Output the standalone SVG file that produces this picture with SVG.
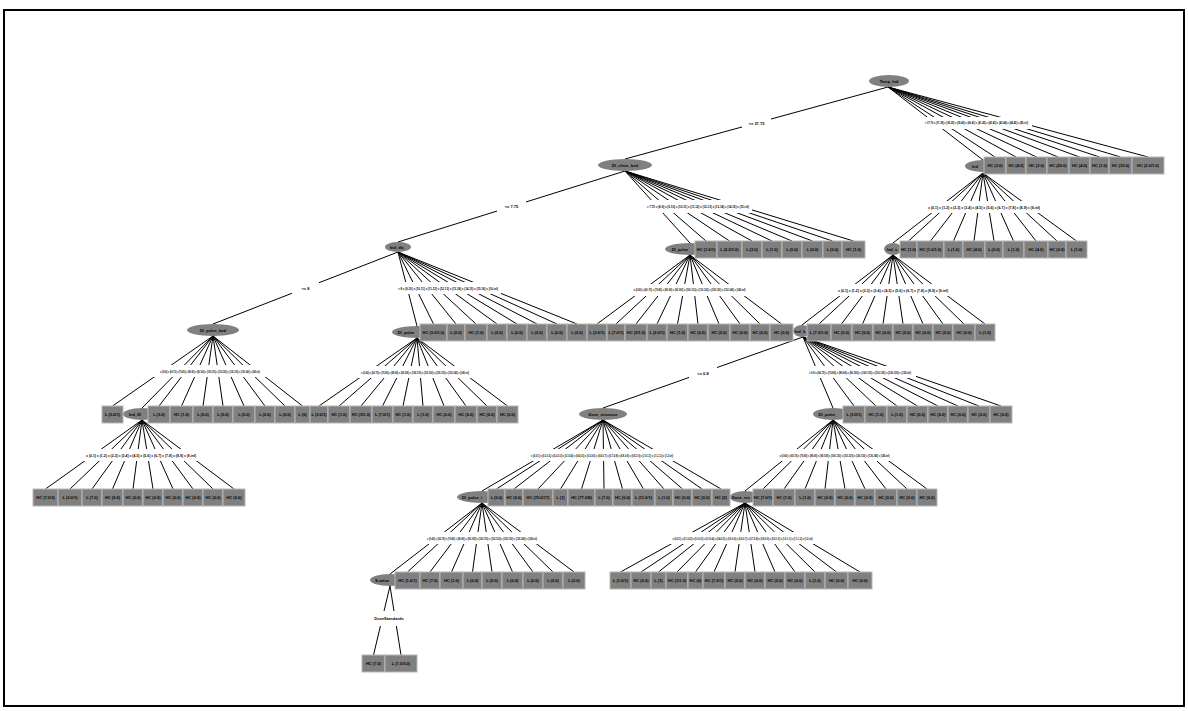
<svg xmlns="http://www.w3.org/2000/svg" width="1188" height="711" viewBox="0 0 1188 711">
<style>
.bx{fill:#808080;stroke:#b8b8b8;stroke-width:1}
.el{fill:#808080}
.t{font-family:"Liberation Sans",Arial,sans-serif;font-size:4px;font-weight:bold;fill:#000;text-anchor:middle}
.c{fill:none;stroke:#000;stroke-width:1}
.gap{fill:#fff}
</style>
<rect width="1188" height="711" fill="#fff"/>
<rect x="4" y="10" width="1180" height="696" fill="none" stroke="#000" stroke-width="2"/>
<g id="connectors">
<path class="c" d="M888 87L625 159M888 87L983 160M888 87L995 157M888 87L1016 157M888 87L1036.5 157M888 87L1058 157M888 87L1079.5 157M888 87L1099.5 157M888 87L1120.5 157M888 87L1148 157
M983 173L893 243M983 173L908.5 241M983 173L930.5 241M983 173L953.5 241M983 173L974 241M983 173L994 241M983 173L1013.5 241M983 173L1036 241M983 173L1057 241M983 173L1076.5 241
M625 171L398 242M625 171L690 243M625 171L706 241M625 171L729.5 241M625 171L752 241M625 171L772 241M625 171L792 241M625 171L812.5 241M625 171L832.5 241M625 171L853.5 241
M893 255L802 325M893 255L819 324M893 255L841.5 324M893 255L862.5 324M893 255L883 324M893 255L903 324M893 255L923 324M893 255L943 324M893 255L964 324M893 255L985 324
M690 255L597 324M690 255L616 324M690 255L636 324M690 255L657 324M690 255L677.5 324M690 255L698 324M690 255L719 324M690 255L740 324M690 255L760 324M690 255L781.5 324
M398 252L213 324M398 252L417 326M398 252L433.5 324M398 252L456 324M398 252L476 324M398 252L497 324M398 252L517 324M398 252L537 324M398 252L557 324M398 252L577 324
M213 336L112.5 406M213 336L142 408M213 336L159 406M213 336L181.5 406M213 336L203 406M213 336L223 406M213 336L244 406M213 336L265 406M213 336L285 406M213 336L302.5 406
M417 338L319 406M417 338L339 406M417 338L361 406M417 338L382.5 406M417 338L403 406M417 338L423 406M417 338L444 406M417 338L466 406M417 338L487 406M417 338L507.5 406
M803 337L603 408M803 337L833 408M803 337L854 406M803 337L876 406M803 337L897 406M803 337L917.5 406M803 337L938 406M803 337L958 406M803 337L979 406M803 337L1001 406
M142 420L45.5 489M142 420L70 489M142 420L92 489M142 420L112.5 489M142 420L133 489M142 420L153 489M142 420L173 489M142 420L193 489M142 420L213 489M142 420L234 489
M603 420L482 491M603 420L496.5 489M603 420L514 489M603 420L538 489M603 420L560.5 489M603 420L581.5 489M603 420L604 489M603 420L622.5 489M603 420L643.5 489M603 420L664 489M603 420L682.5 489M603 420L702 489M603 420L721 489
M833 420L745 491M833 420L763 489M833 420L784 489M833 420L805 489M833 420L825 489M833 420L845 489M833 420L865 489M833 420L886 489M833 420L907 489M833 420L927 489
M482 503L390 574M482 503L407.5 572M482 503L430 572M482 503L451.5 572M482 503L472.5 572M482 503L492 572M482 503L512.5 572M482 503L533 572M482 503L553 572M482 503L574 572
M745 503L620.5 572M745 503L641 572M745 503L658.5 572M745 503L677 572M745 503L695.5 572M745 503L714 572M745 503L735 572M745 503L755 572M745 503L775 572M745 503L795 572M745 503L815 572M745 503L836.5 572M745 503L860 572
M390 586L373.5 655M390 586L401 655"/>
<g class="gap">
<rect x="742" y="117" width="29" height="11"/>
<rect x="921" y="117" width="111" height="12"/>
<rect x="925" y="201" width="118" height="12"/>
<rect x="497" y="200" width="29" height="13"/>
<rect x="644" y="200" width="108" height="13"/>
<rect x="834" y="284" width="118" height="12"/>
<rect x="630" y="284" width="119" height="12"/>
<rect x="292" y="282" width="27" height="12"/>
<rect x="394" y="282" width="107" height="12"/>
<rect x="149" y="365" width="122" height="12"/>
<rect x="354" y="366" width="122" height="12"/>
<rect x="689" y="367" width="28" height="12"/>
<rect x="804" y="366" width="112" height="12"/>
<rect x="80" y="449" width="122" height="12"/>
<rect x="528" y="449" width="148" height="12"/>
<rect x="775" y="449" width="119" height="12"/>
<rect x="422" y="532" width="120" height="12"/>
<rect x="669" y="532" width="147" height="12"/>
<rect x="368" y="611" width="42" height="15"/>
</g>
<g class="t">
<text x="756.5" y="124.5">&lt;= 37.75</text>
<text x="976.5" y="124" textLength="103" lengthAdjust="spacingAndGlyphs">&gt; 37.75 = (37-38] = (38-39] = (39-40] = (40-41] = (41-42] = (42-43] = (43-44] = (44-45] = (45-inf)</text>
<text x="984" y="208.5" textLength="112" lengthAdjust="spacingAndGlyphs">= (0-1] = (1-2] = (2-3] = (3-4] = (4-5] = (5-6] = (6-7] = (7-8] = (8-9] = (9-inf)</text>
<text x="511.5" y="208">&lt;= 7.75</text>
<text x="698" y="208" textLength="102" lengthAdjust="spacingAndGlyphs">&gt; 7.75 = (8-9] = (9-10] = (10-11] = (11-12] = (12-13] = (13-14] = (14-15] = (15-inf)</text>
<text x="893" y="291.5" textLength="110" lengthAdjust="spacingAndGlyphs">= (0-1] = (1-2] = (2-3] = (3-4] = (4-5] = (5-6] = (6-7] = (7-8] = (8-9] = (9-inf)</text>
<text x="689.5" y="291" textLength="112" lengthAdjust="spacingAndGlyphs">= (0-60] = (60-70] = (70-80] = (80-90] = (90-100] = (100-110] = (110-120] = (120-130] = (130-140] = (140-inf)</text>
<text x="305.5" y="289.5">&lt;= 8</text>
<text x="448" y="289.5" textLength="100" lengthAdjust="spacingAndGlyphs">&gt; 8 = (9-10] = (10-11] = (11-12] = (12-13] = (13-14] = (14-15] = (15-16] = (16-inf)</text>
<text x="210" y="372.5" textLength="100" lengthAdjust="spacingAndGlyphs">= (0-60] = (60-70] = (70-80] = (80-90] = (90-100] = (100-110] = (110-120] = (120-130] = (130-140] = (140-inf)</text>
<text x="415" y="373.5" textLength="108" lengthAdjust="spacingAndGlyphs">= (0-60] = (60-70] = (70-80] = (80-90] = (90-100] = (100-110] = (110-120] = (120-130] = (130-140] = (140-inf)</text>
<text x="703" y="374.5">&lt;= 0.8</text>
<text x="860" y="373.5" textLength="102" lengthAdjust="spacingAndGlyphs">&gt; 0.8 = (60-70] = (70-80] = (80-90] = (90-100] = (100-110] = (110-120] = (120-130] = (130-inf)</text>
<text x="141" y="456.5" textLength="110" lengthAdjust="spacingAndGlyphs">= (0-1] = (1-2] = (2-3] = (3-4] = (4-5] = (5-6] = (6-7] = (7-8] = (8-9] = (9-inf)</text>
<text x="602" y="456.5" textLength="142" lengthAdjust="spacingAndGlyphs">= (0-0.1] = (0.1-0.2] = (0.2-0.3] = (0.3-0.4] = (0.4-0.5] = (0.5-0.6] = (0.6-0.7] = (0.7-0.8] = (0.8-0.9] = (0.9-1.0] = (1.0-1.1] = (1.1-1.2] = (1.2-inf)</text>
<text x="834.5" y="456.5" textLength="110" lengthAdjust="spacingAndGlyphs">= (0-60] = (60-70] = (70-80] = (80-90] = (90-100] = (100-110] = (110-120] = (120-130] = (130-140] = (140-inf)</text>
<text x="482" y="539.5" textLength="110" lengthAdjust="spacingAndGlyphs">= (0-60] = (60-70] = (70-80] = (80-90] = (90-100] = (100-110] = (110-120] = (120-130] = (130-140] = (140-inf)</text>
<text x="742.5" y="539.5" textLength="140" lengthAdjust="spacingAndGlyphs">= (0-0.1] = (0.1-0.2] = (0.2-0.3] = (0.3-0.4] = (0.4-0.5] = (0.5-0.6] = (0.6-0.7] = (0.7-0.8] = (0.8-0.9] = (0.9-1.0] = (1.0-1.1] = (1.1-1.2] = (1.2-inf)</text>
<text x="389" y="619.5">DoseStandards</text>
</g>
</g>
<g id="n-temp-ind"><ellipse class="el" cx="889" cy="81" rx="20" ry="6"/><text class="t" x="889" y="82.5">Temp_Ind</text></g>
<g id="n-di-clinic-bed"><ellipse class="el" cx="625" cy="165" rx="27" ry="6"/><text class="t" x="625" y="166.5">DI_clinic_bed</text></g>
<g id="n-ind"><ellipse class="el" cx="983" cy="166" rx="18" ry="6"/><text class="t" x="975" y="167.5">Ind</text></g>
<g id="n-ind-dis"><ellipse class="el" cx="398" cy="247" rx="13" ry="5"/><text class="t" x="397" y="248.5">Ind_dis</text></g>
<g id="n-di-pulse-a"><ellipse class="el" cx="690" cy="249" rx="25" ry="6"/><text class="t" x="680" y="250.5">DI_pulse</text></g>
<g id="n-ind-s"><ellipse class="el" cx="893" cy="249" rx="9" ry="6"/><text class="t" x="892" y="250.5">Ind_s</text></g>
<g id="n-di-pulse-bed"><ellipse class="el" cx="213" cy="330" rx="26" ry="6"/><text class="t" x="213" y="331.5">DI_pulse_bed</text></g>
<g id="n-di-pulse-b"><ellipse class="el" cx="417" cy="332" rx="25" ry="6"/><text class="t" x="406" y="333.5">DI_pulse</text></g>
<g id="n-ind-b"><ellipse class="el" cx="802" cy="331" rx="9" ry="6"/><text class="t" x="800" y="332.5">Ind_b</text></g>
<g id="n-ind-id"><ellipse class="el" cx="142" cy="414" rx="19" ry="6"/><text class="t" x="135" y="415.5">Ind_ID</text></g>
<g id="n-dose-resource"><ellipse class="el" cx="603" cy="414" rx="24" ry="6"/><text class="t" x="603" y="415.5">Dose_resource</text></g>
<g id="n-di-pulse-c"><ellipse class="el" cx="833" cy="414" rx="20" ry="6"/><text class="t" x="828" y="415.5">DI_pulse_</text></g>
<g id="n-di-pulse-d"><ellipse class="el" cx="482" cy="497" rx="25" ry="6"/><text class="t" x="472" y="498.5">DI_pulse_i</text></g>
<g id="n-dose-res"><ellipse class="el" cx="745" cy="497" rx="15" ry="6"/><text class="t" x="741" y="498.5">Dose_res</text></g>
<g id="n-s-value"><ellipse class="el" cx="390" cy="580" rx="20" ry="6"/><text class="t" x="382" y="581.5">S-value</text></g>
<g id="l1-1"><rect class="bx" x="984" y="157" width="22" height="17"/><text class="t" x="995" y="167">HC (3.0)</text></g>
<g id="l1-2"><rect class="bx" x="1006" y="157" width="20" height="17"/><text class="t" x="1016" y="167">HC (4.0)</text></g>
<g id="l1-3"><rect class="bx" x="1026" y="157" width="21" height="17"/><text class="t" x="1036.5" y="167">HC (2.0)</text></g>
<g id="l1-4"><rect class="bx" x="1047" y="157" width="22" height="17"/><text class="t" x="1058" y="167">HC (20.0)</text></g>
<g id="l1-5"><rect class="bx" x="1069" y="157" width="21" height="17"/><text class="t" x="1079.5" y="167">HC (4.0)</text></g>
<g id="l1-6"><rect class="bx" x="1090" y="157" width="19" height="17"/><text class="t" x="1099.5" y="167">HC (1.0)</text></g>
<g id="l1-7"><rect class="bx" x="1109" y="157" width="23" height="17"/><text class="t" x="1120.5" y="167">HC (10.0)</text></g>
<g id="l1-8"><rect class="bx" x="1132" y="157" width="32" height="17"/><text class="t" x="1148" y="167">HC (2.0/1.0)</text></g>
<g id="l2-1"><rect class="bx" x="695" y="241" width="22" height="17"/><text class="t" x="706" y="251">HC (1.0/1)</text></g>
<g id="l2-2"><rect class="bx" x="717" y="241" width="25" height="17"/><text class="t" x="729.5" y="251">L (2.0/1.0)</text></g>
<g id="l2-3"><rect class="bx" x="742" y="241" width="20" height="17"/><text class="t" x="752" y="251">L (2.0)</text></g>
<g id="l2-4"><rect class="bx" x="762" y="241" width="20" height="17"/><text class="t" x="772" y="251">L (1.0)</text></g>
<g id="l2-5"><rect class="bx" x="782" y="241" width="20" height="17"/><text class="t" x="792" y="251">L (0.0)</text></g>
<g id="l2-6"><rect class="bx" x="802" y="241" width="21" height="17"/><text class="t" x="812.5" y="251">L (0.0)</text></g>
<g id="l2-7"><rect class="bx" x="823" y="241" width="19" height="17"/><text class="t" x="832.5" y="251">L (0.0)</text></g>
<g id="l2-8"><rect class="bx" x="842" y="241" width="23" height="17"/><text class="t" x="853.5" y="251">HC (1.0)</text></g>
<g id="l2-9"><rect class="bx" x="900" y="241" width="17" height="17"/><text class="t" x="908.5" y="251">HC (1.0)</text></g>
<g id="l2-10"><rect class="bx" x="917" y="241" width="27" height="17"/><text class="t" x="930.5" y="251">HC (1.0/1.0)</text></g>
<g id="l2-11"><rect class="bx" x="944" y="241" width="19" height="17"/><text class="t" x="953.5" y="251">L (1.0)</text></g>
<g id="l2-12"><rect class="bx" x="963" y="241" width="22" height="17"/><text class="t" x="974" y="251">HC (4.0)</text></g>
<g id="l2-13"><rect class="bx" x="985" y="241" width="18" height="17"/><text class="t" x="994" y="251">L (0.0)</text></g>
<g id="l2-14"><rect class="bx" x="1003" y="241" width="21" height="17"/><text class="t" x="1013.5" y="251">L (1.0)</text></g>
<g id="l2-15"><rect class="bx" x="1024" y="241" width="24" height="17"/><text class="t" x="1036" y="251">HC (4.0)</text></g>
<g id="l2-16"><rect class="bx" x="1048" y="241" width="18" height="17"/><text class="t" x="1057" y="251">HC (0.0)</text></g>
<g id="l2-17"><rect class="bx" x="1066" y="241" width="21" height="17"/><text class="t" x="1076.5" y="251">L (1.0)</text></g>
<g id="l3-1"><rect class="bx" x="420" y="324" width="27" height="17"/><text class="t" x="433.5" y="334">HC (3.0/1.0)</text></g>
<g id="l3-2"><rect class="bx" x="447" y="324" width="18" height="17"/><text class="t" x="456" y="334">L (0.0)</text></g>
<g id="l3-3"><rect class="bx" x="465" y="324" width="22" height="17"/><text class="t" x="476" y="334">HC (1.0)</text></g>
<g id="l3-4"><rect class="bx" x="487" y="324" width="20" height="17"/><text class="t" x="497" y="334">L (0.0)</text></g>
<g id="l3-5"><rect class="bx" x="507" y="324" width="20" height="17"/><text class="t" x="517" y="334">L (0.0)</text></g>
<g id="l3-6"><rect class="bx" x="527" y="324" width="20" height="17"/><text class="t" x="537" y="334">L (0.0)</text></g>
<g id="l3-7"><rect class="bx" x="547" y="324" width="20" height="17"/><text class="t" x="557" y="334">L (0.0)</text></g>
<g id="l3-8"><rect class="bx" x="567" y="324" width="20" height="17"/><text class="t" x="577" y="334">L (0.0)</text></g>
<g id="l3-9"><rect class="bx" x="587" y="324" width="20" height="17"/><text class="t" x="597" y="334">L (3.0/1)</text></g>
<g id="l3-10"><rect class="bx" x="607" y="324" width="18" height="17"/><text class="t" x="616" y="334">L (7.0/1)</text></g>
<g id="l3-11"><rect class="bx" x="625" y="324" width="22" height="17"/><text class="t" x="636" y="334">HC (3/1.0)</text></g>
<g id="l3-12"><rect class="bx" x="647" y="324" width="20" height="17"/><text class="t" x="657" y="334">L (2.0/1)</text></g>
<g id="l3-13"><rect class="bx" x="667" y="324" width="21" height="17"/><text class="t" x="677.5" y="334">HC (1.0)</text></g>
<g id="l3-14"><rect class="bx" x="688" y="324" width="20" height="17"/><text class="t" x="698" y="334">HC (0.0)</text></g>
<g id="l3-15"><rect class="bx" x="708" y="324" width="22" height="17"/><text class="t" x="719" y="334">HC (0.0)</text></g>
<g id="l3-16"><rect class="bx" x="730" y="324" width="20" height="17"/><text class="t" x="740" y="334">HC (0.0)</text></g>
<g id="l3-17"><rect class="bx" x="750" y="324" width="20" height="17"/><text class="t" x="760" y="334">HC (0.0)</text></g>
<g id="l3-18"><rect class="bx" x="770" y="324" width="23" height="17"/><text class="t" x="781.5" y="334">HC (0.0)</text></g>
<g id="l3-19"><rect class="bx" x="807" y="324" width="24" height="17"/><text class="t" x="819" y="334">L (7.0/1.0)</text></g>
<g id="l3-20"><rect class="bx" x="831" y="324" width="21" height="17"/><text class="t" x="841.5" y="334">HC (0.0)</text></g>
<g id="l3-21"><rect class="bx" x="852" y="324" width="21" height="17"/><text class="t" x="862.5" y="334">HC (0.0)</text></g>
<g id="l3-22"><rect class="bx" x="873" y="324" width="20" height="17"/><text class="t" x="883" y="334">HC (0.0)</text></g>
<g id="l3-23"><rect class="bx" x="893" y="324" width="20" height="17"/><text class="t" x="903" y="334">HC (0.0)</text></g>
<g id="l3-24"><rect class="bx" x="913" y="324" width="20" height="17"/><text class="t" x="923" y="334">HC (0.0)</text></g>
<g id="l3-25"><rect class="bx" x="933" y="324" width="20" height="17"/><text class="t" x="943" y="334">HC (0.0)</text></g>
<g id="l3-26"><rect class="bx" x="953" y="324" width="22" height="17"/><text class="t" x="964" y="334">HC (0.0)</text></g>
<g id="l3-27"><rect class="bx" x="975" y="324" width="20" height="17"/><text class="t" x="985" y="334">L (1.0)</text></g>
<g id="l4-1"><rect class="bx" x="102" y="406" width="21" height="17"/><text class="t" x="112.5" y="416">L (3.0/1)</text></g>
<g id="l4-2"><rect class="bx" x="148" y="406" width="22" height="17"/><text class="t" x="159" y="416">L (3.0)</text></g>
<g id="l4-3"><rect class="bx" x="170" y="406" width="23" height="17"/><text class="t" x="181.5" y="416">HC (1.0)</text></g>
<g id="l4-4"><rect class="bx" x="193" y="406" width="20" height="17"/><text class="t" x="203" y="416">L (0.0)</text></g>
<g id="l4-5"><rect class="bx" x="213" y="406" width="20" height="17"/><text class="t" x="223" y="416">L (0.0)</text></g>
<g id="l4-6"><rect class="bx" x="233" y="406" width="22" height="17"/><text class="t" x="244" y="416">L (0.0)</text></g>
<g id="l4-7"><rect class="bx" x="255" y="406" width="20" height="17"/><text class="t" x="265" y="416">L (0.0)</text></g>
<g id="l4-8"><rect class="bx" x="275" y="406" width="20" height="17"/><text class="t" x="285" y="416">L (0.0)</text></g>
<g id="l4-9"><rect class="bx" x="295" y="406" width="15" height="17"/><text class="t" x="302.5" y="416">L (0)</text></g>
<g id="l4-10"><rect class="bx" x="310" y="406" width="18" height="17"/><text class="t" x="319" y="416">L (3.0/1)</text></g>
<g id="l4-11"><rect class="bx" x="328" y="406" width="22" height="17"/><text class="t" x="339" y="416">HC (1.0)</text></g>
<g id="l4-12"><rect class="bx" x="350" y="406" width="22" height="17"/><text class="t" x="361" y="416">HC (3/1.0)</text></g>
<g id="l4-13"><rect class="bx" x="372" y="406" width="21" height="17"/><text class="t" x="382.5" y="416">L (7.0/1)</text></g>
<g id="l4-14"><rect class="bx" x="393" y="406" width="20" height="17"/><text class="t" x="403" y="416">HC (1.0)</text></g>
<g id="l4-15"><rect class="bx" x="413" y="406" width="20" height="17"/><text class="t" x="423" y="416">L (1.0)</text></g>
<g id="l4-16"><rect class="bx" x="433" y="406" width="22" height="17"/><text class="t" x="444" y="416">HC (0.0)</text></g>
<g id="l4-17"><rect class="bx" x="455" y="406" width="22" height="17"/><text class="t" x="466" y="416">HC (0.0)</text></g>
<g id="l4-18"><rect class="bx" x="477" y="406" width="20" height="17"/><text class="t" x="487" y="416">HC (0.0)</text></g>
<g id="l4-19"><rect class="bx" x="497" y="406" width="21" height="17"/><text class="t" x="507.5" y="416">HC (0.0)</text></g>
<g id="l4-20"><rect class="bx" x="843" y="406" width="22" height="17"/><text class="t" x="854" y="416">L (3.0/1)</text></g>
<g id="l4-21"><rect class="bx" x="865" y="406" width="22" height="17"/><text class="t" x="876" y="416">HC (1.0)</text></g>
<g id="l4-22"><rect class="bx" x="887" y="406" width="20" height="17"/><text class="t" x="897" y="416">L (1.0)</text></g>
<g id="l4-23"><rect class="bx" x="907" y="406" width="21" height="17"/><text class="t" x="917.5" y="416">HC (0.0)</text></g>
<g id="l4-24"><rect class="bx" x="928" y="406" width="20" height="17"/><text class="t" x="938" y="416">HC (0.0)</text></g>
<g id="l4-25"><rect class="bx" x="948" y="406" width="20" height="17"/><text class="t" x="958" y="416">HC (0.0)</text></g>
<g id="l4-26"><rect class="bx" x="968" y="406" width="22" height="17"/><text class="t" x="979" y="416">HC (0.0)</text></g>
<g id="l4-27"><rect class="bx" x="990" y="406" width="22" height="17"/><text class="t" x="1001" y="416">HC (0.0)</text></g>
<g id="l5-1"><rect class="bx" x="33" y="489" width="25" height="17"/><text class="t" x="45.5" y="499">HC (7.0/3)</text></g>
<g id="l5-2"><rect class="bx" x="58" y="489" width="24" height="17"/><text class="t" x="70" y="499">L (3.0/1)</text></g>
<g id="l5-3"><rect class="bx" x="82" y="489" width="20" height="17"/><text class="t" x="92" y="499">L (7.0)</text></g>
<g id="l5-4"><rect class="bx" x="102" y="489" width="21" height="17"/><text class="t" x="112.5" y="499">HC (0.0)</text></g>
<g id="l5-5"><rect class="bx" x="123" y="489" width="20" height="17"/><text class="t" x="133" y="499">HC (0.0)</text></g>
<g id="l5-6"><rect class="bx" x="143" y="489" width="20" height="17"/><text class="t" x="153" y="499">HC (0.0)</text></g>
<g id="l5-7"><rect class="bx" x="163" y="489" width="20" height="17"/><text class="t" x="173" y="499">HC (0.0)</text></g>
<g id="l5-8"><rect class="bx" x="183" y="489" width="20" height="17"/><text class="t" x="193" y="499">HC (0.0)</text></g>
<g id="l5-9"><rect class="bx" x="203" y="489" width="20" height="17"/><text class="t" x="213" y="499">HC (0.0)</text></g>
<g id="l5-10"><rect class="bx" x="223" y="489" width="22" height="17"/><text class="t" x="234" y="499">HC (0.0)</text></g>
<g id="l5-11"><rect class="bx" x="488" y="489" width="17" height="17"/><text class="t" x="496.5" y="499">L (0.0)</text></g>
<g id="l5-12"><rect class="bx" x="505" y="489" width="18" height="17"/><text class="t" x="514" y="499">HC (0.0)</text></g>
<g id="l5-13"><rect class="bx" x="523" y="489" width="30" height="17"/><text class="t" x="538" y="499">HC (70.0/17)</text></g>
<g id="l5-14"><rect class="bx" x="553" y="489" width="15" height="17"/><text class="t" x="560.5" y="499">L (1)</text></g>
<g id="l5-15"><rect class="bx" x="568" y="489" width="27" height="17"/><text class="t" x="581.5" y="499">HC (77.0/8)</text></g>
<g id="l5-16"><rect class="bx" x="595" y="489" width="18" height="17"/><text class="t" x="604" y="499">L (7.0)</text></g>
<g id="l5-17"><rect class="bx" x="613" y="489" width="19" height="17"/><text class="t" x="622.5" y="499">HC (0.0)</text></g>
<g id="l5-18"><rect class="bx" x="632" y="489" width="23" height="17"/><text class="t" x="643.5" y="499">L (11.0/1)</text></g>
<g id="l5-19"><rect class="bx" x="655" y="489" width="18" height="17"/><text class="t" x="664" y="499">L (1.0)</text></g>
<g id="l5-20"><rect class="bx" x="673" y="489" width="19" height="17"/><text class="t" x="682.5" y="499">HC (0.0)</text></g>
<g id="l5-21"><rect class="bx" x="692" y="489" width="20" height="17"/><text class="t" x="702" y="499">HC (0.0)</text></g>
<g id="l5-22"><rect class="bx" x="712" y="489" width="18" height="17"/><text class="t" x="721" y="499">HC (0)</text></g>
<g id="l5-23"><rect class="bx" x="753" y="489" width="20" height="17"/><text class="t" x="763" y="499">HC (7.0/1)</text></g>
<g id="l5-24"><rect class="bx" x="773" y="489" width="22" height="17"/><text class="t" x="784" y="499">HC (1.0)</text></g>
<g id="l5-25"><rect class="bx" x="795" y="489" width="20" height="17"/><text class="t" x="805" y="499">L (1.0)</text></g>
<g id="l5-26"><rect class="bx" x="815" y="489" width="20" height="17"/><text class="t" x="825" y="499">HC (0.0)</text></g>
<g id="l5-27"><rect class="bx" x="835" y="489" width="20" height="17"/><text class="t" x="845" y="499">HC (0.0)</text></g>
<g id="l5-28"><rect class="bx" x="855" y="489" width="20" height="17"/><text class="t" x="865" y="499">HC (0.0)</text></g>
<g id="l5-29"><rect class="bx" x="875" y="489" width="22" height="17"/><text class="t" x="886" y="499">HC (0.0)</text></g>
<g id="l5-30"><rect class="bx" x="897" y="489" width="20" height="17"/><text class="t" x="907" y="499">HC (0.0)</text></g>
<g id="l5-31"><rect class="bx" x="917" y="489" width="20" height="17"/><text class="t" x="927" y="499">HC (0.0)</text></g>
<g id="l6-1"><rect class="bx" x="395" y="572" width="25" height="17"/><text class="t" x="407.5" y="582">HC (1.0/1)</text></g>
<g id="l6-2"><rect class="bx" x="420" y="572" width="20" height="17"/><text class="t" x="430" y="582">HC (7.0)</text></g>
<g id="l6-3"><rect class="bx" x="440" y="572" width="23" height="17"/><text class="t" x="451.5" y="582">HC (1.0)</text></g>
<g id="l6-4"><rect class="bx" x="463" y="572" width="19" height="17"/><text class="t" x="472.5" y="582">L (0.0)</text></g>
<g id="l6-5"><rect class="bx" x="482" y="572" width="20" height="17"/><text class="t" x="492" y="582">L (0.0)</text></g>
<g id="l6-6"><rect class="bx" x="502" y="572" width="21" height="17"/><text class="t" x="512.5" y="582">L (0.0)</text></g>
<g id="l6-7"><rect class="bx" x="523" y="572" width="20" height="17"/><text class="t" x="533" y="582">L (0.0)</text></g>
<g id="l6-8"><rect class="bx" x="543" y="572" width="20" height="17"/><text class="t" x="553" y="582">L (0.0)</text></g>
<g id="l6-9"><rect class="bx" x="563" y="572" width="22" height="17"/><text class="t" x="574" y="582">L (0.0)</text></g>
<g id="l6-10"><rect class="bx" x="610" y="572" width="21" height="17"/><text class="t" x="620.5" y="582">L (1.0/1)</text></g>
<g id="l6-11"><rect class="bx" x="631" y="572" width="20" height="17"/><text class="t" x="641" y="582">HC (0.0)</text></g>
<g id="l6-12"><rect class="bx" x="651" y="572" width="15" height="17"/><text class="t" x="658.5" y="582">L (1)</text></g>
<g id="l6-13"><rect class="bx" x="666" y="572" width="22" height="17"/><text class="t" x="677" y="582">HC (1/1.0)</text></g>
<g id="l6-14"><rect class="bx" x="688" y="572" width="15" height="17"/><text class="t" x="695.5" y="582">HC (0)</text></g>
<g id="l6-15"><rect class="bx" x="703" y="572" width="22" height="17"/><text class="t" x="714" y="582">HC (7.0/1)</text></g>
<g id="l6-16"><rect class="bx" x="725" y="572" width="20" height="17"/><text class="t" x="735" y="582">HC (0.0)</text></g>
<g id="l6-17"><rect class="bx" x="745" y="572" width="20" height="17"/><text class="t" x="755" y="582">HC (0.0)</text></g>
<g id="l6-18"><rect class="bx" x="765" y="572" width="20" height="17"/><text class="t" x="775" y="582">HC (0.0)</text></g>
<g id="l6-19"><rect class="bx" x="785" y="572" width="20" height="17"/><text class="t" x="795" y="582">HC (0.0)</text></g>
<g id="l6-20"><rect class="bx" x="805" y="572" width="20" height="17"/><text class="t" x="815" y="582">L (1.0)</text></g>
<g id="l6-21"><rect class="bx" x="825" y="572" width="23" height="17"/><text class="t" x="836.5" y="582">HC (0.0)</text></g>
<g id="l6-22"><rect class="bx" x="848" y="572" width="24" height="17"/><text class="t" x="860" y="582">HC (0.0)</text></g>
<g id="l7-1"><rect class="bx" x="362" y="655" width="23" height="17"/><text class="t" x="373.5" y="665">HC (7.0)</text></g>
<g id="l7-2"><rect class="bx" x="385" y="655" width="32" height="17"/><text class="t" x="401" y="665">L (7.0/3.0)</text></g>
</svg>
